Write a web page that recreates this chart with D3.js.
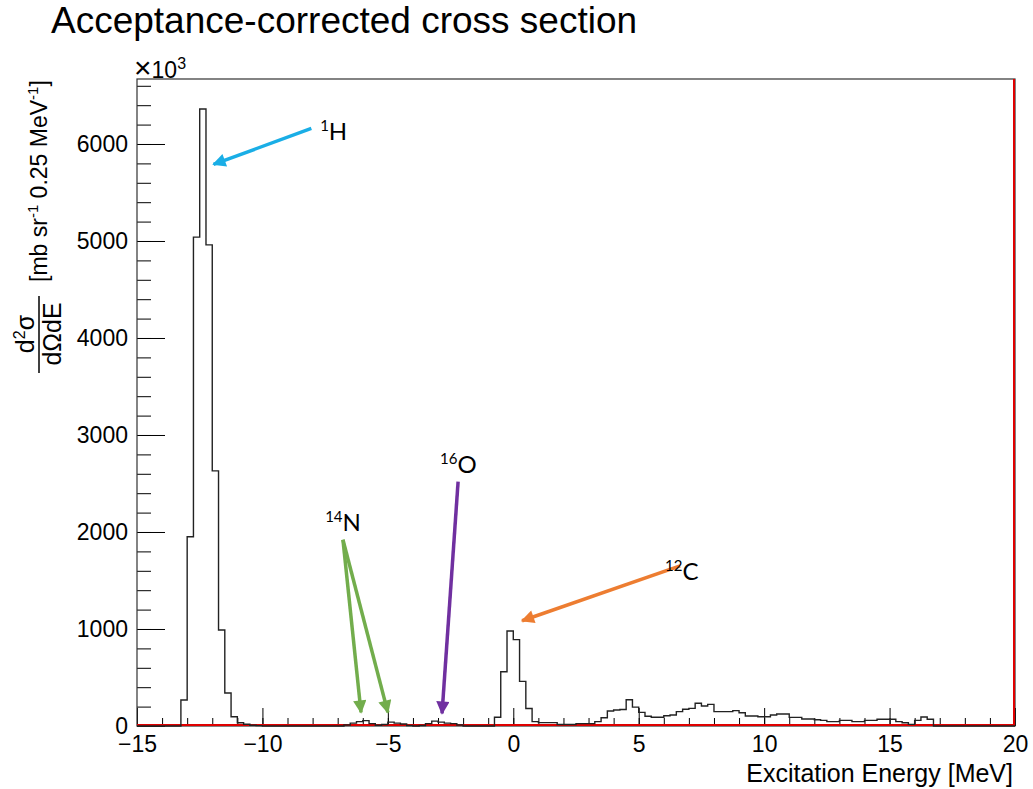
<!DOCTYPE html>
<html>
<head>
<meta charset="utf-8">
<script src="https://cdn.jsdelivr.net/npm/d3@7"></script>
<style>
  body { margin: 0; background: #fff; }
  svg text { font-family: "Liberation Sans", Arial, sans-serif; }
  .axis path { display: none; }
  .axis line { stroke: #000; stroke-width: 1px; }
  .axis text { font-size: 23px; fill: #000; }
  .note { font-family: Lato, "Open Sans", sans-serif; }
</style>
</head>
<body>
<div id="chart"></div>
<script>
// histogram: 0.25 MeV bins from -15 to 20 MeV (values in units of 10^3)
const binStart = -15;
const binWidth = 0.25;
const counts = [
  0, 0, 0, 0, 0, 0, 0, 268, 1951, 5040,
  6360, 4960, 2630, 990, 340, 96, 34, 18, 8, 4,
  0, 0, 0, 0, 0, 0, 0, 0, 0, 0,
  0, 0, 0, 10, 30, 45, 55, 25, 8, 15,
  40, 30, 20, 5, 0, 5, 25, 50, 40, 30,
  25, 10, 0, 0, 0, 0, 0, 90, 560, 980,
  890, 460, 180, 45, 35, 35, 35, 15, 15, 15,
  25, 25, 25, 45, 85, 155, 165, 170, 270, 195,
  140, 100, 90, 90, 105, 113, 148, 172, 182, 234,
  206, 223, 148, 148, 148, 158, 137, 103, 103, 96,
  96, 113, 124, 124, 89, 89, 72, 72, 65, 58,
  45, 45, 58, 58, 45, 45, 58, 58, 69, 69,
  69, 45, 34, 17, 58, 93, 69, 0, 0, 0,
  0, 0, 0, 0, 0, 0, 0, 0, 0, 0
];
const xMajorTicks = [-15, -10, -5, 0, 5, 10, 15, 20];
const yMajorTicks = [0, 1000, 2000, 3000, 4000, 5000, 6000];

// annotations: isotope, superscript, label anchor, arrow tail, arrow heads (MeV, value)
const isotopes = ["H", "N", "O", "C"];
const massNumbers = ["1", "14", "16", "12"];
const isoColors = ["#1aaee6", "#72ad4c", "#7030a0", "#ed7d31"];
const labelAt = [[-7.7, 6040], [-7.5, 2015], [-2.92, 2610], [6.05, 1500]];
const arrowTail = [[-8.05, 6160], [-6.79, 1920], [-2.2, 2520], [6.65, 1650]];
const arrowHeads = [
  [[-11.95, 5790]],
  [[-6.07, 140], [-5.0, 140]],
  [[-2.84, 130]],
  [[0.35, 1085]]
];

const W = 1033, H = 789;
const m = { left: 137, right: 18, top: 79, bottom: 63 };
const x = d3.scaleLinear().domain([-15, 20]).range([m.left, W - m.right]);
const y = d3.scaleLinear().domain([0, 6670]).range([H - m.bottom, m.top]);

const svg = d3.select("#chart").append("svg")
  .attr("width", W).attr("height", H);

// title
svg.append("text")
  .attr("x", 51).attr("y", 33)
  .style("font-size", "37px")
  .text("Acceptance-corrected cross section");

// axes
const gx = svg.append("g").attr("class", "axis")
  .attr("transform", "translate(0," + y(0) + ")");
gx.call(d3.axisBottom(x).tickValues(d3.range(-15, 21, 1)).tickSize(-8).tickFormat(""));
gx.append("g").call(d3.axisBottom(x).tickValues(xMajorTicks).tickSize(-18).tickPadding(10));
gx.selectAll("path").remove();

const gy = svg.append("g").attr("class", "axis")
  .attr("transform", "translate(" + x(-15) + ",0)");
gy.call(d3.axisLeft(y).tickValues(d3.range(0, 6601, 200)).tickSize(-14).tickFormat(""));
gy.append("g").call(d3.axisLeft(y).tickValues(yMajorTicks).tickSize(-28).tickPadding(9).tickFormat(d3.format("d")));
gy.selectAll("path").remove();

// frame
svg.append("rect")
  .attr("x", x(-15)).attr("y", y(6670))
  .attr("width", x(20) - x(-15)).attr("height", y(0) - y(6670))
  .attr("fill", "none").attr("stroke", "#333").attr("stroke-width", 1.2);
svg.append("line")
  .attr("x1", x(-15)).attr("x2", x(20)).attr("y1", y(0) - 1).attr("y2", y(0) - 1)
  .attr("stroke", "#e00000").attr("stroke-width", 2);
svg.append("line")
  .attr("x1", x(20) - 1).attr("x2", x(20) - 1).attr("y1", y(6670)).attr("y2", y(0))
  .attr("stroke", "#e00000").attr("stroke-width", 2);

// histogram outline
const pts = counts.map((v, i) => [binStart + i * binWidth, v]);
pts.unshift([binStart, 0]);
pts.push([binStart + counts.length * binWidth, counts[counts.length - 1]]);
svg.append("path")
  .attr("d", d3.line().x(d => x(d[0])).y(d => y(d[1])).curve(d3.curveStepAfter)(pts))
  .attr("fill", "none").attr("stroke", "#222").attr("stroke-width", 1.4);

// axis titles
svg.append("text")
  .attr("x", x(20) - 2).attr("y", 782)
  .attr("text-anchor", "end")
  .style("font-size", "25px")
  .text("Excitation Energy [MeV]");

svg.append("text")
  .attr("x", 134).attr("y", 78)
  .style("font-size", "23px")
  .html("<tspan font-size='30px'>×</tspan>10<tspan dy='-9' font-size='16px'>3</tspan>");

const yt = svg.append("g").attr("transform", "rotate(-90)");
// rotated frame: text x = -pageY, y = pageX
yt.append("text")
  .attr("x", -282).attr("y", 47)
  .style("font-size", "23px")
  .html("[mb sr<tspan dy='-9' font-size='15px'>-1</tspan><tspan dy='9'> 0.25 MeV</tspan><tspan dy='-9' font-size='15px'>-1</tspan><tspan dy='9'>]</tspan>");
yt.append("text")
  .attr("x", -334).attr("y", 34).attr("text-anchor", "middle")
  .style("font-size", "25px")
  .html("d<tspan dy='-9' font-size='16px'>2</tspan><tspan dy='9'>σ</tspan>");
yt.append("line")
  .attr("x1", -373).attr("x2", -296).attr("y1", 39).attr("y2", 39)
  .attr("stroke", "#000").attr("stroke-width", 1.5);
yt.append("text")
  .attr("x", -334).attr("y", 61).attr("text-anchor", "middle")
  .style("font-size", "25px")
  .text("dΩdE");

// annotations
const defs = svg.append("defs");
isoColors.forEach((c, i) => {
  defs.append("marker")
    .attr("id", "head" + i)
    .attr("viewBox", "0 0 10 10").attr("refX", 9).attr("refY", 5)
    .attr("markerWidth", 4.4).attr("markerHeight", 3.8)
    .attr("markerUnits", "strokeWidth")
    .attr("orient", "auto")
    .append("path").attr("d", "M0,0L10,5L0,10Z").attr("fill", c);
});
isotopes.forEach((iso, i) => {
  arrowHeads[i].forEach(h => {
    svg.append("line")
      .attr("x1", x(arrowTail[i][0])).attr("y1", y(arrowTail[i][1]))
      .attr("x2", x(h[0])).attr("y2", y(h[1]))
      .attr("stroke", isoColors[i]).attr("stroke-width", 3.5)
      .attr("marker-end", "url(#head" + i + ")");
  });
  svg.append("text").attr("class", "note")
    .attr("x", x(labelAt[i][0])).attr("y", y(labelAt[i][1]))
    .style("font-size", "24px")
    .html("<tspan dy='-9' font-size='15px'>" + massNumbers[i] + "</tspan><tspan dy='9'>" + iso + "</tspan>");
});
</script>
</body>
</html>
